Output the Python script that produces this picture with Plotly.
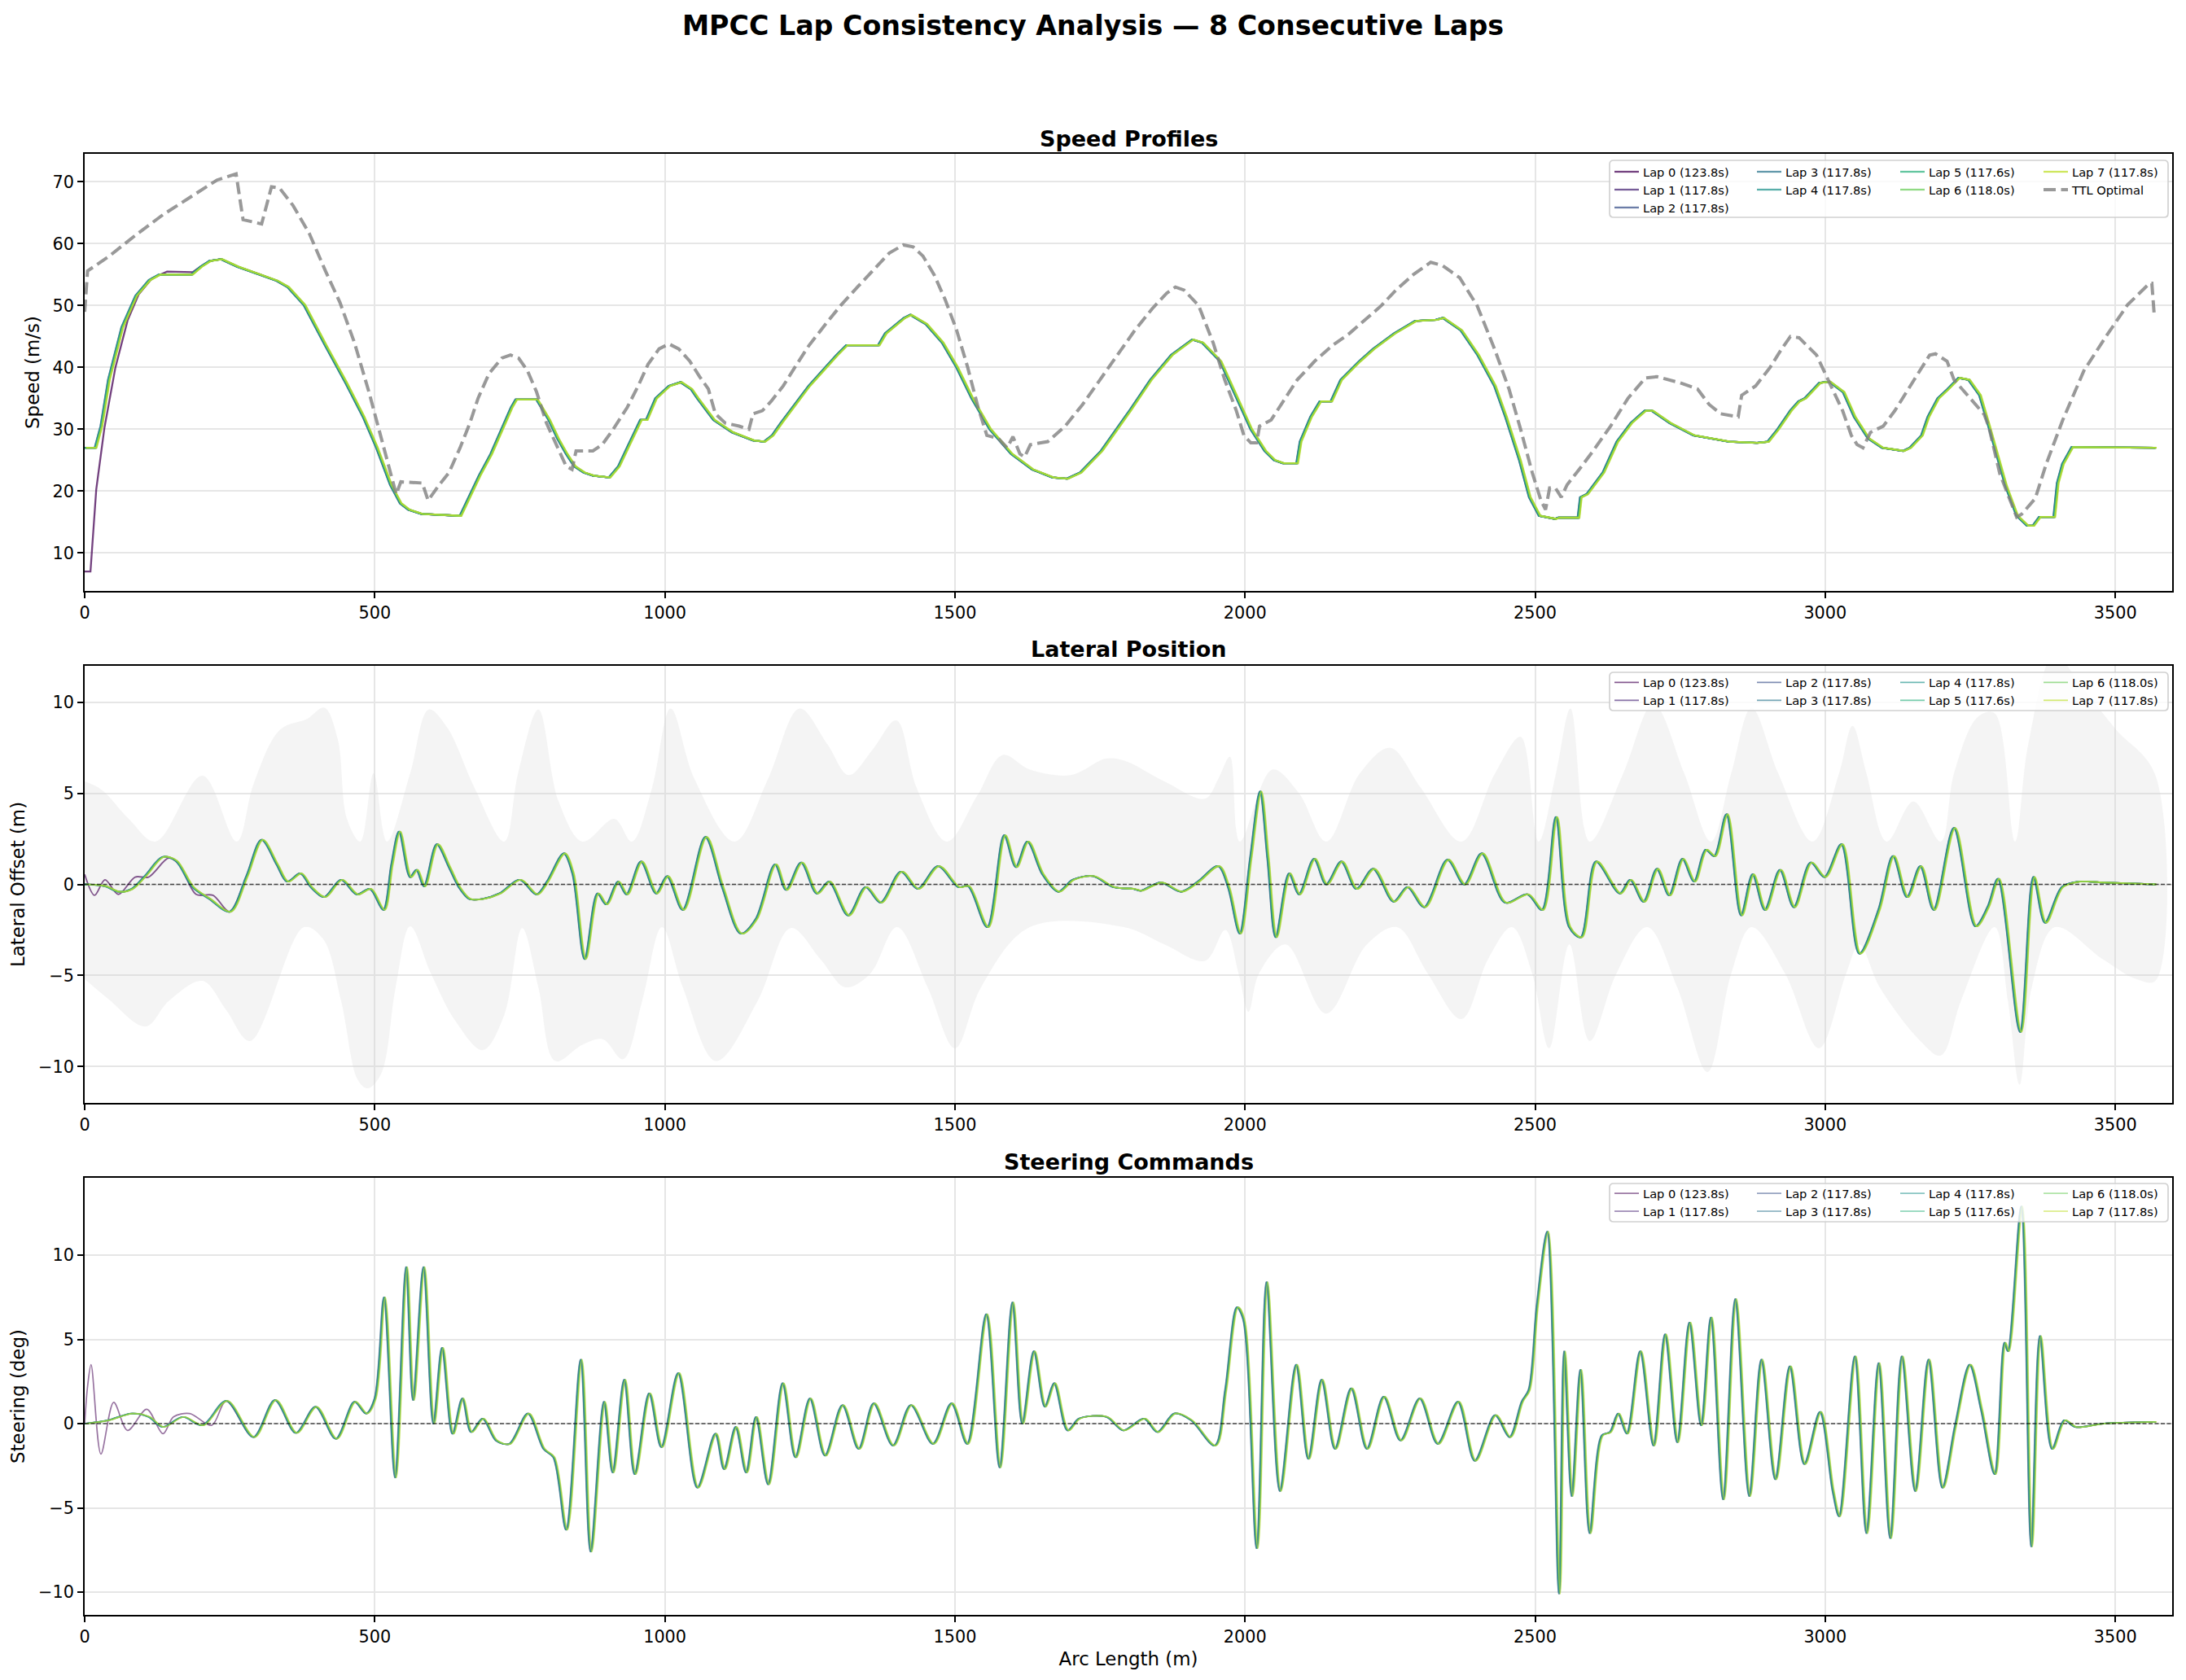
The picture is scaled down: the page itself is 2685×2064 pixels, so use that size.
import plotly.graph_objects as go

# ---------------- canvas geometry ----------------
W, H = 2685, 2064
ML, MR, MT, MB = 104, 17, 189, 80
PW = W - ML - MR
PH = H - MT - MB


def px_x(px):
    return (px - ML) / PW


def px_y(py):
    return (H - MB - py) / PH


FONT = "DejaVu Sans"

# ---------------- data ----------------
LAP_NAMES = ["Lap 0 (123.8s)", "Lap 1 (117.8s)", "Lap 2 (117.8s)", "Lap 3 (117.8s)",
             "Lap 4 (117.8s)", "Lap 5 (117.6s)", "Lap 6 (118.0s)", "Lap 7 (117.8s)"]
LAP_COLORS = ["#440154", "#482576", "#3b528b", "#2b748e",
              "#20938c", "#2cb17e", "#6bcd5a", "#bddf26"]
# small arc-length phase offset of each lap (bundle spread), metres
LAP_S_SHIFT = [0.0, 1.2, -0.8, 0.6, -0.4, 0.9, 1.8, 2.4]

X_TICKS = [0, 500, 1000, 1500, 2000, 2500, 3000, 3500]
S_MAX = 3598

# Speed profile common to laps 1..7
S_SPEED = [0, 18, 28, 41, 64, 88, 111, 128, 184, 200, 215, 235, 263, 303, 331, 350, 378, 415,
           450, 480, 503, 527, 544, 558, 580, 647, 660, 680, 700, 719, 735, 743, 779, 800, 815,
           830, 844, 860, 876, 904, 920, 935, 950, 958, 968, 984, 1007, 1027, 1045, 1056, 1084,
           1116, 1152, 1171, 1185, 1200, 1248, 1296, 1313, 1368, 1380, 1412, 1423, 1450, 1478,
           1503, 1529, 1560, 1597, 1633, 1668, 1693, 1716, 1752, 1801, 1837, 1873, 1909, 1926,
           1957, 1981, 2010, 2034, 2050, 2065, 2089, 2095, 2113, 2129, 2148, 2165, 2197, 2221,
           2257, 2293, 2329, 2341, 2372, 2401, 2430, 2449, 2473, 2490, 2507, 2534, 2540, 2574,
           2578, 2589, 2617, 2641, 2665, 2689, 2701, 2732, 2773, 2834, 2882, 2901, 2918, 2940,
           2954, 2965, 2990, 3007, 3031, 3050, 3074, 3098, 3134, 3146, 3166, 3177, 3194, 3211,
           3230, 3247, 3266, 3282, 3311, 3330, 3348, 3358, 3369, 3394, 3400, 3409, 3425, 3569]
V_SPEED = [27.0, 27.0, 30.5, 38.0, 46.5, 51.6, 54.1, 55.0, 55.0, 56.3, 57.2, 57.5, 56.3, 55.0,
           54.0, 53.0, 50.1, 43.5, 37.5, 32.0, 27.0, 21.0, 18.0, 17.0, 16.3, 16.0, 18.5, 22.5,
           26.0, 30.0, 33.5, 34.8, 34.8, 31.5, 28.5, 26.0, 24.0, 23.0, 22.5, 22.2, 24.0, 27.0,
           30.0, 31.5, 31.5, 35.0, 37.0, 37.6, 36.5, 35.0, 31.5, 29.5, 28.2, 28.0, 29.0, 31.0,
           37.0, 42.0, 43.6, 43.6, 45.5, 48.0, 48.5, 47.0, 44.0, 40.0, 35.0, 30.0, 26.0, 23.5,
           22.2, 22.0, 23.0, 26.5, 33.0, 38.0, 42.0, 44.5, 44.0, 41.0, 36.0, 30.0, 26.5, 25.0,
           24.5, 24.5, 28.0, 32.0, 34.5, 34.5, 38.0, 41.0, 43.0, 45.5, 47.5, 47.7, 48.0, 46.0,
           42.0, 37.0, 32.0, 25.0, 19.0, 16.0, 15.5, 15.7, 15.7, 19.0, 19.5, 23.0, 28.0, 31.0,
           33.0, 33.0, 31.0, 29.0, 28.0, 27.8, 28.0, 30.0, 33.0, 34.5, 35.0, 37.5, 37.7, 36.0,
           32.0, 28.5, 27.0, 26.5, 27.0, 29.0, 32.0, 35.0, 36.5, 38.3, 38.0, 35.5, 30.4, 20.8,
           16.0, 14.4, 14.4, 15.8, 15.8, 21.3, 24.4, 27.1, 27.0]
# Lap 0 starts from rest
S_SPEED_LAP0 = [0, 10, 20, 34, 53, 74, 93, 116, 142, 186, 200]
V_SPEED_LAP0 = [7.0, 7.0, 20.3, 30.2, 40.0, 47.6, 51.8, 54.4, 55.5, 55.4, 56.3]

# Time-optimal reference speed
S_TTL = [0, 5, 41, 88, 135, 181, 228, 261, 273, 305, 322, 336, 359, 387, 415, 440, 465, 490,
         510, 525, 532, 537, 545, 582, 592, 611, 628, 647, 664, 678, 697, 719, 734, 748, 763,
         779, 796, 815, 830, 840, 847, 876, 892, 911, 935, 954, 971, 990, 1007, 1024, 1043,
         1060, 1075, 1087, 1104, 1128, 1145, 1152, 1168, 1183, 1204, 1224, 1248, 1277, 1303,
         1332, 1361, 1387, 1411, 1428, 1445, 1464, 1483, 1503, 1522, 1540, 1555, 1575, 1590,
         1600, 1612, 1620, 1630, 1660, 1690, 1720, 1750, 1780, 1810, 1840, 1865, 1880, 1895,
         1920, 1945, 1965, 1985, 1998, 2010, 2020, 2025, 2045, 2070, 2090, 2120, 2150, 2180,
         2205, 2235, 2260, 2290, 2320, 2340, 2370, 2400, 2430, 2455, 2475, 2495, 2510, 2518,
         2525, 2535, 2545, 2555, 2580, 2600, 2630, 2660, 2690, 2710, 2750, 2780, 2800, 2820,
         2850, 2856, 2880, 2905, 2925, 2940, 2955, 2985, 3010, 3030, 3045, 3055, 3065, 3078,
         3100, 3120, 3140, 3160, 3180, 3190, 3210, 3222, 3250, 3274, 3282, 3301, 3330, 3339,
         3362, 3381, 3409, 3446, 3484, 3521, 3559, 3563, 3567]
V_TTL = [49.0, 55.6, 57.9, 61.4, 64.7, 67.5, 70.3, 71.3, 63.9, 63.2, 69.2, 69.0, 66.2, 61.7,
         55.6, 50.5, 44.0, 36.0, 29.0, 24.0, 21.5, 19.5, 21.5, 21.3, 18.5, 21.0, 23.0, 27.0,
         31.0, 35.0, 39.0, 41.5, 42.0, 41.5, 39.5, 36.0, 31.0, 27.0, 24.0, 23.5, 26.5, 26.5,
         27.5, 30.0, 33.5, 37.0, 40.5, 43.0, 43.8, 43.0, 41.0, 38.5, 36.5, 32.5, 31.0, 30.5,
         30.0, 32.5, 33.0, 34.5, 37.0, 40.0, 43.5, 47.0, 50.0, 53.0, 56.0, 58.5, 59.8, 59.5,
         58.0, 55.0, 51.0, 46.0, 40.0, 33.5, 29.0, 28.5, 27.0, 28.8, 26.0, 25.5, 27.5, 28.0,
         30.5, 34.0, 38.0, 42.0, 46.0, 49.5, 52.0, 53.0, 52.5, 50.0, 44.0, 38.0, 33.0, 29.0,
         27.8, 27.8, 30.5, 31.5, 35.0, 38.0, 41.0, 43.5, 45.5, 47.5, 50.0, 52.5, 55.0, 57.0,
         56.5, 54.5, 50.0, 43.0, 36.5, 30.0, 23.0, 18.5, 17.0, 20.5, 20.5, 19.0, 21.0, 24.0,
         26.5, 30.5, 35.0, 38.3, 38.5, 37.5, 36.5, 34.0, 32.5, 32.0, 35.5, 37.0, 40.0, 43.0,
         45.0, 44.8, 42.0, 37.0, 33.0, 29.0, 27.5, 27.0, 29.5, 30.5, 33.0, 36.0, 39.0, 42.0,
         42.2, 41.0, 38.0, 35.0, 32.4, 30.4, 22.8, 15.8, 16.3, 18.8, 24.4, 31.4, 39.5, 45.0,
         50.1, 53.6, 53.6, 48.6]

# Lateral offset common to laps 1..7
S_LAT = [0, 35, 58, 81, 105, 134, 157, 186, 215, 250, 279, 305, 331, 349, 372, 390, 413, 442,
         469, 492, 515, 529, 542, 561, 572, 585, 607, 628, 645, 663, 686, 715, 750, 779, 797,
         826, 841, 862, 884, 899, 919, 934, 959, 985, 1004, 1031, 1070, 1099, 1131, 1157, 1190,
         1209, 1235, 1262, 1283, 1316, 1346, 1372, 1407, 1436, 1471, 1506, 1523, 1556, 1585,
         1605, 1625, 1651, 1678, 1703, 1738, 1773, 1808, 1820, 1855, 1890, 1919, 1954, 1971,
         1991, 2009, 2026, 2039, 2053, 2076, 2093, 2119, 2140, 2166, 2192, 2221, 2256, 2280,
         2309, 2349, 2378, 2408, 2448, 2487, 2512, 2536, 2559, 2579, 2605, 2646, 2664, 2687,
         2710, 2731, 2754, 2774, 2794, 2809, 2830, 2855, 2875, 2896, 2922, 2946, 2975, 2999,
         3028, 3059, 3092, 3117, 3141, 3164, 3187, 3222, 3259, 3280, 3298, 3336, 3359, 3379,
         3408, 3437, 3478, 3569]
V_LAT = [0.0, -0.1, -0.4, -0.25, 0.5, 1.5, 1.3, -0.15, -0.8, -1.5, 0.45, 2.45, 1.1, 0.15, 0.6,
         -0.15, -0.7, 0.25, -0.55, -0.25, -1.4, 1.1, 2.9, 0.4, 0.8, -0.1, 2.2, 0.95, -0.15, -0.8,
         -0.8, -0.5, 0.25, -0.55, 0.15, 1.7, 0.6, -4.1, -0.5, -1.1, 0.15, -0.55, 1.25, -0.5,
         0.45, -1.4, 2.6, -0.15, -2.7, -1.9, 1.1, -0.3, 1.2, -0.5, 0.15, -1.7, -0.15, -1.0,
         0.7, -0.25, 1.0, -0.15, -0.1, -2.35, 2.7, 0.95, 2.35, 0.55, -0.4, 0.25, 0.45, -0.15,
         -0.25, -0.35, 0.1, -0.4, 0.15, 1.0, -0.15, -2.7, 1.4, 5.1, 1.4, -2.9, 0.6, -0.55, 1.4,
         0.0, 1.25, -0.25, 0.85, -0.95, -0.15, -1.25, 1.35, 0.0, 1.7, -1.0, -0.55, -1.4, 3.7,
         -2.35, -2.9, 1.25, -0.5, 0.25, -0.95, 0.85, -0.6, 1.4, 0.15, 1.9, 1.55, 3.85, -1.7,
         0.55, -1.4, 0.8, -1.25, 1.2, 0.4, 2.2, -3.8, -1.4, 1.55, -0.7, 1.0, -1.4, 3.1, -2.3,
         -1.25, 0.3, -8.1, 0.4, -2.1, -0.15, 0.15, 0.1, 0.0]
S_LAT_LAP0 = [0, 17, 35, 58, 87, 110, 145, 163, 192, 221]
V_LAT_LAP0 = [0.55, -0.6, 0.25, -0.55, 0.4, 0.4, 1.45, 1.1, -0.55, -0.6]

# Track bounds (left / right half widths)
S_BOUND_L = [0, 29, 76, 122, 203, 262, 291, 337, 384, 413, 436, 452, 475, 498, 521, 561, 593,
             625, 672, 723, 747, 782, 817, 858, 913, 943, 978, 1010, 1051, 1120, 1178, 1232,
             1280, 1317, 1358, 1399, 1434, 1486, 1539, 1582, 1629, 1700, 1760, 1791, 1861,
             1931, 1954, 1974, 1991, 2047, 2093, 2140, 2198, 2250, 2303, 2373, 2431, 2475, 2506,
             2536, 2561, 2594, 2652, 2704, 2757, 2803, 2838, 2873, 2919, 2978, 3024, 3047, 3071,
             3106, 3152, 3199, 3222, 3263, 3292, 3327, 3350, 3395, 3443, 3501, 3569]
V_BOUND_L = [5.65, 5.2, 3.6, 2.35, 5.97, 2.35, 5.5, 8.5, 9.1, 9.7, 8.0, 3.6, 2.35, 6.1, 2.35,
             6.1, 9.6, 8.6, 5.3, 2.35, 6.1, 9.6, 4.55, 2.35, 3.6, 2.35, 5.3, 9.65, 5.8, 2.35,
             5.8, 9.65, 7.7, 6.0, 7.4, 9.0, 5.3, 2.35, 4.9, 7.1, 6.3, 6.0, 6.9, 6.8, 5.65, 4.7,
             5.8, 7.0, 2.35, 6.3, 5.0, 2.35, 6.1, 7.5, 5.3, 2.35, 6.1, 8.1, 2.35, 6.1, 9.65,
             2.35, 6.1, 9.9, 6.1, 2.35, 6.1, 9.7, 6.1, 2.35, 6.1, 8.7, 6.1, 2.35, 4.55, 2.35, 6.1,
             9.2, 9.4, 2.35, 7.7, 12.6, 10.8, 8.5, 6.0]
S_BOUND_R = [0, 41, 105, 145, 203, 244, 285, 378, 411, 442, 471, 488, 511, 536, 561, 597, 639,
             686, 723, 754, 782, 811, 858, 893, 928, 961, 995, 1031, 1088, 1160, 1217, 1268,
             1311, 1354, 1400, 1453, 1500, 1545, 1629, 1791, 1861, 1931, 1966, 1989, 2006, 2024,
             2070, 2140, 2210, 2262, 2315, 2373, 2419, 2460, 2495, 2524, 2559, 2594, 2640, 2693,
             2745, 2797, 2838, 2873, 2931, 2989, 3036, 3059, 3094, 3164, 3199, 3234, 3292, 3315,
             3335, 3356, 3396, 3478, 3536, 3569]
V_BOUND_R = [-5.2, -6.3, -7.8, -6.4, -5.3, -6.9, -8.6, -2.35, -3.0, -6.4, -10.75, -11.2, -10.4,
             -5.65, -2.3, -4.9, -7.5, -9.1, -7.2, -2.4, -5.65, -9.7, -8.8, -8.5, -9.6, -6.4,
             -2.35, -5.65, -9.7, -6.4, -2.4, -4.1, -5.65, -4.9, -2.35, -5.65, -9.0, -5.65, -2.35,
             -2.35, -3.3, -4.2, -2.5, -4.9, -7.0, -4.9, -3.3, -7.1, -3.3, -2.35, -4.9, -7.4, -4.1,
             -2.35, -4.9, -9.0, -3.3, -8.6, -4.9, -2.35, -5.65, -10.3, -4.9, -2.35, -4.9, -9.0,
             -4.9, -3.3, -5.65, -8.6, -9.4, -6.4, -2.35, -6.4, -11.0, -5.65, -2.35, -4.1, -5.2,
             -5.3]

# Steering command common to laps 1..7 (deg)
S_STEER = [0, 40, 81, 110, 134, 169, 203, 244, 291, 328, 364, 398, 433, 465, 485, 500, 516,
           535, 554, 566, 584, 601, 616, 634, 651, 666, 686, 709, 732, 764, 791, 808, 830, 855,
           872, 895, 910, 930, 948, 973, 994, 1023, 1056, 1087, 1102, 1122, 1140, 1157, 1178,
           1203, 1225, 1250, 1276, 1306, 1334, 1360, 1393, 1424, 1462, 1494, 1521, 1554, 1577,
           1599, 1616, 1636, 1655, 1671, 1694, 1714, 1761, 1790, 1826, 1849, 1878, 1907, 1948,
           1966, 1986, 1997, 2020, 2037, 2060, 2088, 2109, 2132, 2155, 2183, 2210, 2239, 2268,
           2301, 2332, 2367, 2396, 2431, 2456, 2477, 2489, 2503, 2521, 2541, 2550, 2563, 2578,
           2594, 2615, 2629, 2643, 2658, 2681, 2704, 2724, 2745, 2766, 2786, 2803, 2824, 2845,
           2869, 2890, 2914, 2939, 2964, 2991, 3013, 3024, 3051, 3071, 3092, 3112, 3132, 3155,
           3178, 3202, 3224, 3249, 3269, 3292, 3309, 3315, 3338, 3355, 3370, 3391, 3412, 3431,
           3478, 3569]
V_STEER = [0.0, 0.2, 0.6, 0.4, -0.2, 0.4, -0.1, 1.35, -0.8, 1.4, -0.55, 1.0, -0.9, 1.3, 0.6,
           1.5, 7.5, -3.2, 9.3, 1.4, 9.3, 0.0, 4.5, -0.6, 1.5, -0.5, 0.3, -1.0, -1.2, 0.6, -1.5,
           -2.0, -6.3, 3.8, -7.6, 1.3, -2.9, 2.6, -3.0, 1.8, -1.4, 3.0, -3.8, -0.6, -2.7, -0.2,
           -2.9, 0.4, -3.6, 2.4, -2.0, 1.5, -1.9, 1.1, -1.5, 1.2, -1.3, 1.1, -1.2, 1.2, -1.2,
           6.5, -2.6, 7.2, 0.0, 4.3, 1.0, 2.4, -0.4, 0.3, 0.4, -0.4, 0.3, -0.5, 0.6, 0.2, -1.3,
           2.0, 6.9, 6.2, -7.4, 8.4, -4.0, 3.5, -2.1, 2.6, -1.5, 2.1, -1.5, 1.6, -1.0, 1.5, -1.2,
           1.3, -2.2, 0.5, -0.8, 1.3, 2.0, 7.0, 11.4, -10.1, 4.3, -4.3, 3.2, -6.5, -0.7, -0.5,
           0.6, -0.6, 4.3, -1.3, 5.3, -1.1, 6.0, -0.1, 6.3, -4.5, 7.4, -4.3, 3.8, -3.3, 3.4,
           -2.4, 0.7, -4.0, -5.5, 4.0, -6.5, 3.6, -6.8, 4.0, -4.0, 3.8, -3.8, -0.1, 3.5, 0.8,
           -3.0, 4.8, 4.3, 12.9, -7.3, 5.2, -1.5, 0.2, -0.2, 0.0, 0.1]
S_STEER_LAP0 = [0, 5, 11, 28, 50, 74, 107, 135, 153, 181, 219]
V_STEER_LAP0 = [0.0, 2.2, 3.5, -1.8, 1.26, -0.4, 0.85, -0.6, 0.4, 0.6, -0.1]

SPEED_TICKS = [10, 20, 30, 40, 50, 60, 70]
LAT_TICKS = [-10, -5, 0, 5, 10]
STEER_TICKS = [-10, -5, 0, 5, 10]


# ---------------- helpers ----------------
def rgba(hex_color, a):
    h = hex_color.lstrip("#")
    r, g, b = int(h[0:2], 16), int(h[2:4], 16), int(h[4:6], 16)
    return f"rgba({r},{g},{b},{a})"


def lap_series(i, s_base, v_base, s_l0, v_l0):
    if i == 0:
        s = list(s_l0) + [x for x in s_base if x > s_l0[-1]]
        v = list(v_l0) + [y for x, y in zip(s_base, v_base) if x > s_l0[-1]]
    else:
        s, v = list(s_base), list(v_base)
    s = [x + LAP_S_SHIFT[i] for x in s]
    return s, v


fig = go.Figure()

SPEED_LEG = ["legend", "legend", "legend", "legend2", "legend2", "legend3", "legend3", "legend4"]
LAT_LEG = ["legend5", "legend5", "legend6", "legend6", "legend7", "legend7", "legend8", "legend8"]
STEER_LEG = ["legend9", "legend9", "legend10", "legend10", "legend11", "legend11", "legend12", "legend12"]

# speed
for i in range(8):
    s, v = lap_series(i, S_SPEED, V_SPEED, S_SPEED_LAP0, V_SPEED_LAP0)
    fig.add_trace(go.Scatter(x=s, y=v, mode="lines", name=LAP_NAMES[i],
                             line=dict(color=rgba(LAP_COLORS[i], 0.75), width=2.3),
                             xaxis="x", yaxis="y", legend=SPEED_LEG[i]))
fig.add_trace(go.Scatter(x=S_TTL, y=V_TTL, mode="lines", name="TTL Optimal",
                         line=dict(color="rgba(128,128,128,0.8)", width=4, dash="15px,6.5px"),
                         xaxis="x", yaxis="y", legend="legend4"))

# lateral: track bounds
fig.add_trace(go.Scatter(x=S_BOUND_L + S_BOUND_R[::-1], y=V_BOUND_L + V_BOUND_R[::-1],
                         mode="lines", fill="toself", fillcolor="rgba(211,211,211,0.25)",
                         line=dict(width=0, shape="spline", smoothing=1.0),
                         hoverinfo="skip", showlegend=False, xaxis="x2", yaxis="y2"))
for i in range(8):
    s, v = lap_series(i, S_LAT, V_LAT, S_LAT_LAP0, V_LAT_LAP0)
    fig.add_trace(go.Scatter(x=s, y=v, mode="lines", name=LAP_NAMES[i],
                             line=dict(color=rgba(LAP_COLORS[i], 0.65), width=1.9,
                                       shape="spline", smoothing=0.9),
                             xaxis="x2", yaxis="y2", legend=LAT_LEG[i]))

# steering
for i in range(8):
    s, v = lap_series(i, S_STEER, V_STEER, S_STEER_LAP0, V_STEER_LAP0)
    fig.add_trace(go.Scatter(x=s, y=v, mode="lines", name=LAP_NAMES[i],
                             line=dict(color=rgba(LAP_COLORS[i], 0.55), width=1.7,
                                       shape="spline", smoothing=0.9),
                             xaxis="x3", yaxis="y3", legend=STEER_LEG[i]))

# ---------------- axes ----------------
DOM_SPEED = [px_y(726), px_y(189)]
DOM_LAT = [px_y(1355), px_y(818)]
DOM_STEER = [px_y(1984), px_y(1447)]

axis_common = dict(ticks="outside", ticklen=7, tickwidth=1.7, tickcolor="black",
                   showline=True, linecolor="black", linewidth=1.7, mirror=True,
                   showgrid=True, gridcolor="#e6e6e6", gridwidth=1.7, zeroline=False,
                   tickfont=dict(family=FONT, size=20.8, color="black"), automargin=False)

xcommon = dict(axis_common, range=[0, S_MAX], tickmode="array", tickvals=X_TICKS,
               domain=[0, 1])
fig.update_layout(
    xaxis=dict(xcommon, anchor="y"),
    xaxis2=dict(xcommon, anchor="y2", matches="x"),
    xaxis3=dict(xcommon, anchor="y3", matches="x",
                title=dict(text="Arc Length (m)", standoff=8,
                           font=dict(family=FONT, size=22.9, color="black"))),
    yaxis=dict(axis_common, domain=DOM_SPEED, anchor="x", range=[3.85, 74.54],
               tickmode="array", tickvals=SPEED_TICKS,
               title=dict(text="Speed (m/s)", standoff=10,
                          font=dict(family=FONT, size=22.9, color="black"))),
    yaxis2=dict(axis_common, domain=DOM_LAT, anchor="x2", range=[-12, 12],
                tickmode="array", tickvals=LAT_TICKS,
                title=dict(text="Lateral Offset (m)", standoff=10,
                           font=dict(family=FONT, size=22.9, color="black"))),
    yaxis3=dict(axis_common, domain=DOM_STEER, anchor="x3", range=[-11.35, 14.59],
                tickmode="array", tickvals=STEER_TICKS,
                title=dict(text="Steering (deg)", standoff=10,
                           font=dict(family=FONT, size=22.9, color="black"))),
)

# ---------------- legends ----------------
COL_X = [1978, 2153, 2329, 2505]
LEG_TOP = {"speed": 195.0, "lat": 822.4, "steer": 1450.1}
leg_font = dict(family=FONT, size=14.6, color="black")
legend_defs = {}
names = ["legend", "legend2", "legend3", "legend4"]
for k, nm in enumerate(names):
    legend_defs[nm] = ("speed", k)
for k in range(4):
    legend_defs[f"legend{5 + k}"] = ("lat", k)
    legend_defs[f"legend{9 + k}"] = ("steer", k)
legend_layout = {}
for nm, (panel, col) in legend_defs.items():
    legend_layout[nm] = dict(x=px_x(COL_X[col]), y=px_y(LEG_TOP[panel]), xanchor="left",
                             yanchor="top", orientation="v", bgcolor="rgba(0,0,0,0)",
                             borderwidth=0, font=leg_font, tracegroupgap=0)
fig.update_layout(**legend_layout)


def rounded_box(x0, y0, x1, y1, r=5):
    """SVG path (in paper fractions) for a rounded rectangle given pixel corners."""
    X = px_x
    Y = px_y
    rx = r / PW
    ry = r / PH
    a, b, c, d = X(x0), X(x1), Y(y1), Y(y0)  # left, right, bottom, top
    return (f"M{a + rx},{d} L{b - rx},{d} Q{b},{d} {b},{d - ry} L{b},{c + ry} "
            f"Q{b},{c} {b - rx},{c} L{a + rx},{c} Q{a},{c} {a},{c + ry} L{a},{d - ry} "
            f"Q{a},{d} {a + rx},{d} Z")


# legend frames (matplotlib style), drawn above lines
shapes = []
for (y0, y1) in [(197, 267), (826, 873), (1454, 1501)]:
    shapes.append(dict(type="path", xref="paper", yref="paper",
                       path=rounded_box(1977, y0, 2663, y1),
                       fillcolor="rgba(255,255,255,0.8)",
                       line=dict(color="rgba(204,204,204,0.9)", width=1.7), layer="above"))
# zero reference lines
for ax in ["2", "3"]:
    shapes.append(dict(type="line", xref=f"x{ax} domain", yref=f"y{ax}", x0=0, x1=1, y0=0, y1=0,
                       line=dict(color="rgba(0,0,0,0.7)", width=1.5, dash="5px,2.5px"),
                       layer="above"))

annotations = []
for text, ypx in [("Speed Profiles", 170), ("Lateral Position", 798), ("Steering Commands", 1427)]:
    annotations.append(dict(text=text, xref="paper", yref="paper", x=0.5, y=px_y(ypx),
                            xanchor="center", yanchor="middle", showarrow=False,
                            font=dict(family=FONT, size=27, color="black", weight="bold")))

fig.update_layout(
    width=W, height=H,
    margin=dict(l=ML, r=MR, t=MT, b=MB, pad=0),
    paper_bgcolor="white", plot_bgcolor="white",
    font=dict(family=FONT, color="black"),
    title=dict(text="MPCC Lap Consistency Analysis — 8 Consecutive Laps",
               x=0.5, xref="container", xanchor="center",
               y=1 - 31 / H, yref="container", yanchor="middle",
               font=dict(family=FONT, size=33.3, color="black", weight="bold")),
    shapes=shapes, annotations=annotations,
    showlegend=True,
)

fig.write_html("out.html")
